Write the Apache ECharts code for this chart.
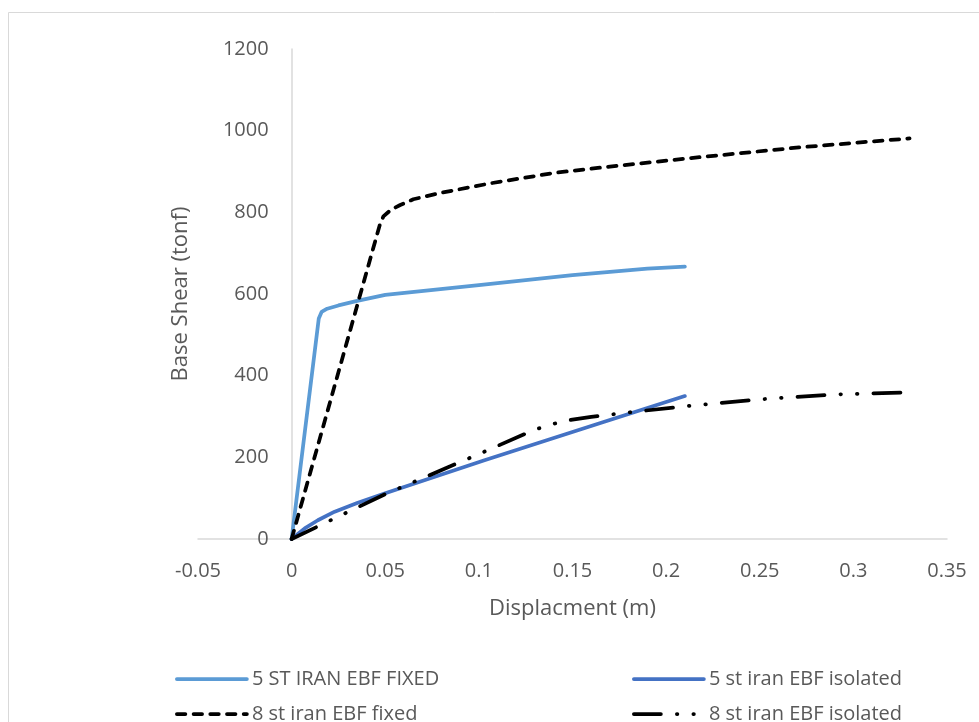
<!DOCTYPE html>
<html>
<head>
<meta charset="utf-8">
<title>Pushover curves</title>
<script src="https://cdn.jsdelivr.net/npm/echarts@6/dist/echarts.min.js"></script>
<style>
  html, body { margin: 0; padding: 0; background: #ffffff; }
  #chart { width: 979px; height: 722px; }
</style>
</head>
<body>
<div id="chart"></div>
<script>
// Pushover curves: displacement (m) vs base shear (tonf)
const seriesNames = [
  '5 ST IRAN EBF FIXED',
  '5 st iran EBF isolated',
  '8 st iran EBF fixed',
  '8 st iran EBF isolated'
];

// [displacement, base shear] pairs
const fixed5 = [
  [0, 0], [0.0145, 540], [0.016, 556], [0.019, 564], [0.025, 572], [0.035, 583],
  [0.05, 598], [0.1, 622], [0.15, 646], [0.19, 662], [0.21, 667]
];
const isolated5 = [
  [0, 0], [0.007, 26], [0.014, 46], [0.023, 67], [0.035, 88], [0.05, 112],
  [0.103, 193], [0.167, 287], [0.21, 350]
];
const fixed8 = [
  [0, 0], [0.047, 768], [0.049, 790], [0.053, 806], [0.058, 818], [0.065, 832],
  [0.079, 847], [0.106, 871], [0.141, 897], [0.17, 912], [0.218, 935],
  [0.271, 959], [0.33, 981]
];
const isolated8 = [
  [0, 0], [0.05, 110], [0.1, 208], [0.13, 268], [0.145, 289], [0.16, 299],
  [0.18, 310], [0.21, 325], [0.25, 342], [0.29, 354], [0.33, 359]
];

const xTicks = { min: -0.05, max: 0.35, step: 0.05 };
const yTicks = { min: 0, max: 1200, step: 200 };

const textColor = '#595959';
const axisColor = '#D9D9D9';
const fontFamily = '"Open Sans", "Liberation Sans", sans-serif';

// plot area in pixels
const plot = { left: 198, right: 947, top: 49, bottom: 539 };
// the value axis sits where x = 0
const yAxisShift = (0 - xTicks.min) / (xTicks.max - xTicks.min) * (plot.right - plot.left);

const chart = echarts.init(document.getElementById('chart'), null, { renderer: 'canvas' });

const lineWidth = 3.75;

function lineSeries(name, data, color, type) {
  return {
    name: name,
    type: 'line',
    data: data,
    showSymbol: false,
    symbol: 'none',
    smooth: false,
    lineStyle: { color: color, width: lineWidth, type: type, cap: 'round', join: 'round' },
    itemStyle: { color: color },
    emphasis: { disabled: true },
    animation: false
  };
}

// one legend block per entry, laid out in two columns and two rows
function legendEntry(name, left, top) {
  return {
    data: [name],
    left: left,
    top: top,
    padding: 0,
    itemWidth: 70,
    itemHeight: 14,
    itemGap: 0,
    selectedMode: false,
    itemStyle: { opacity: 0 },
    lineStyle: { width: lineWidth },
    textStyle: { color: textColor, fontSize: 20, fontFamily: fontFamily }
  };
}

chart.setOption({
  animation: false,
  backgroundColor: '#ffffff',
  graphic: [{
    type: 'rect',
    shape: { x: 8.5, y: 12.5, width: 1000, height: 800 },
    style: { fill: 'none', stroke: axisColor, lineWidth: 1 },
    silent: true,
    z: -1
  }],
  grid: {
    left: plot.left, right: 979 - plot.right,
    top: plot.top, bottom: 722 - plot.bottom, containLabel: false
  },
  legend: [
    legendEntry(seriesNames[0], 175, 669),
    legendEntry(seriesNames[2], 175, 704),
    legendEntry(seriesNames[1], 632, 669),
    legendEntry(seriesNames[3], 632, 704)
  ],
  xAxis: {
    type: 'value',
    min: xTicks.min,
    max: xTicks.max,
    interval: xTicks.step,
    name: 'Displacment (m)',
    nameLocation: 'middle',
    nameGap: 59,
    nameTextStyle: { color: textColor, fontSize: 22, fontFamily: fontFamily },
    axisLine: { show: true, onZero: true, lineStyle: { color: axisColor, width: 1.5 } },
    axisTick: { show: false },
    splitLine: { show: false },
    axisLabel: {
      color: textColor, fontSize: 20, fontFamily: fontFamily, margin: 22,
      formatter: v => String(parseFloat(v.toFixed(2)))
    }
  },
  yAxis: {
    type: 'value',
    min: yTicks.min,
    max: yTicks.max,
    interval: yTicks.step,
    offset: -yAxisShift,
    name: 'Base Shear (tonf)',
    nameLocation: 'middle',
    nameGap: 100,
    nameTextStyle: { color: textColor, fontSize: 22, fontFamily: fontFamily },
    axisLine: { show: true, onZero: false, lineStyle: { color: axisColor, width: 1.5 } },
    axisTick: { show: false },
    splitLine: { show: false },
    axisLabel: {
      color: textColor, fontSize: 20, fontFamily: fontFamily, margin: 23,
      formatter: v => String(v)
    }
  },
  series: [
    lineSeries(seriesNames[0], fixed5, '#5B9BD5', 'solid'),
    lineSeries(seriesNames[1], isolated5, '#4472C4', 'solid'),
    lineSeries(seriesNames[2], fixed8, '#000000', [8.5, 8.2]),
    lineSeries(seriesNames[3], isolated8, '#000000', [27, 16, 0.5, 16, 0.5, 16])
  ]
});
</script>
</body>
</html>
